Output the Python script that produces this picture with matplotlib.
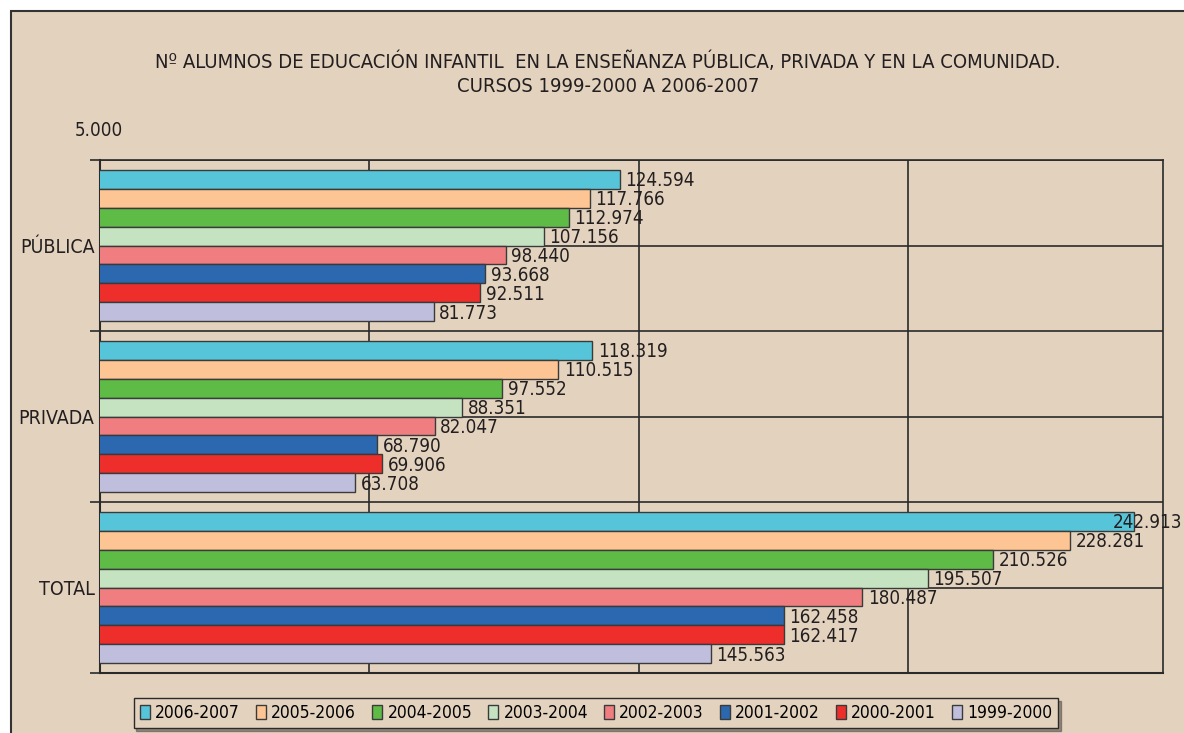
import matplotlib
matplotlib.use("Agg")
import matplotlib.pyplot as plt
from matplotlib import font_manager
from matplotlib.patches import Rectangle
import numpy as np

_names = {f.name for f in font_manager.fontManager.ttflist}
_cond = [f for f in font_manager.fontManager.ttflist
         if f.name == "DejaVu Sans" and "Condensed" in f.fname]
if "Liberation Sans Narrow" in _names:
    plt.rcParams['font.family'] = ['Liberation Sans Narrow', 'DejaVu Sans']
else:
    plt.rcParams['font.family'] = ['DejaVu Sans']
    if _cond:
        plt.rcParams['font.stretch'] = 'condensed'

categories = ["PÚBLICA", "PRIVADA", "TOTAL"]
series_names = ["2006-2007", "2005-2006", "2004-2005", "2003-2004",
                "2002-2003", "2001-2002", "2000-2001", "1999-2000"]
colors = ["#57C5D9", "#FDC593", "#5DBB46", "#C5E2C1",
          "#F07E80", "#2C68B0", "#EE2E2A", "#BFBEDD"]
# values per series: [PÚBLICA, PRIVADA, TOTAL]
values = {
    "2006-2007": [124594, 118319, 242913],
    "2005-2006": [117766, 110515, 228281],
    "2004-2005": [112974, 97552, 210526],
    "2003-2004": [107156, 88351, 195507],
    "2002-2003": [98440, 82047, 180487],
    "2001-2002": [93668, 68790, 162458],
    "2000-2001": [92511, 69906, 162417],
    "1999-2000": [81773, 63708, 145563],
}
title = ("Nº ALUMNOS DE EDUCACIÓN INFANTIL  EN LA ENSEÑANZA PÚBLICA, PRIVADA Y EN LA COMUNIDAD.\n"
         "CURSOS 1999-2000 A 2006-2007")
x_min = 5000
x_max = 249700
x_grid = [67000, 129000, 191000]

def fmt(v):
    return f"{v:,}".replace(",", ".")

W, H = 1184, 733
bg = "#E3D3BE"
ink = "#231f20"
fig = plt.figure(figsize=(W / 100, H / 100), dpi=100)
fig.patch.set_facecolor("white")
bgrect = Rectangle((11 / W, -0.01), 1.02, 1 - 11 / H + 0.01,
                   transform=fig.transFigure, facecolor=bg,
                   edgecolor="#333333", linewidth=1.5, zorder=-10)
fig.patches.append(bgrect)

ax = fig.add_axes([100 / W, (H - 673) / H, 1063 / W, 513 / H])
ax.set_zorder(5)
ax.set_facecolor(bg)

n = len(categories)
ypos = np.arange(n)[::-1].astype(float)  # PÚBLICA at top
h = 0.111
fs = 13.5
for i, name in enumerate(series_names):
    off = (3.5 - i) * h
    ys = ypos + off
    ax.barh(ys, values[name], height=h, left=0, color=colors[i],
            edgecolor="#3a3a3a", linewidth=1.0, zorder=3, label=name)
    for y, v in zip(ys, values[name]):
        if v > 0.97 * x_max:
            # label would run past the figure edge: pull it back inside
            ax.annotate(fmt(v), (1182 / W, y), xycoords=("figure fraction", "data"),
                        xytext=(0, -1), textcoords="offset points",
                        ha="right", va="center", fontsize=fs, color=ink, zorder=5,
                        annotation_clip=False)
        else:
            ax.annotate(fmt(v), (v, y), xytext=(4, -1), textcoords="offset points",
                        ha="left", va="center", fontsize=fs, color=ink, zorder=5,
                        annotation_clip=False)

ax.set_xlim(x_min, x_max)
ax.set_ylim(-0.5, n - 0.5)

for yg in np.arange(-0.5, n - 0.49, 0.5):
    ax.axhline(yg, color="#2a2a2a", linewidth=1.2, zorder=1)
for xg in x_grid:
    ax.axvline(xg, color="#2a2a2a", linewidth=1.2, zorder=1)

ax.set_xticks([])
ax.set_yticks(ypos)
ax.set_yticklabels(categories, fontsize=fs + 0.5, color=ink)
ax.tick_params(axis="y", which="major", length=0, pad=4)
ax.set_yticks(np.arange(-0.5, n - 0.49, 1.0), minor=True)
ax.tick_params(axis="y", which="minor", length=7, width=1.2, color="#2a2a2a", direction="out")
for s in ["left", "bottom"]:
    ax.spines[s].set_color("#2a2a2a")
    ax.spines[s].set_linewidth(1.5)
for s in ["top", "right"]:
    ax.spines[s].set_color("#2a2a2a")
    ax.spines[s].set_linewidth(1.2)

fig.text(99 / W, 1 - 131 / H, "5.000", fontsize=fs, ha="center", va="center", color=ink)

fig.text(608 / W, 1 - 74 / H, title, fontsize=14.5, ha="center", va="center",
         color=ink, linespacing=1.3)

handles = [Rectangle((0, 0), 1, 1, facecolor=c, edgecolor="#3a3a3a", linewidth=1.0)
           for c in colors]
leg = fig.legend(handles, series_names, loc="center", ncol=8,
                 bbox_to_anchor=(596 / W, 1 - 713 / H), fontsize=12.5,
                 frameon=True, fancybox=False, shadow=True,
                 handlelength=0.6, handleheight=0.9, handletextpad=0.3,
                 columnspacing=0.9, borderpad=0.35)
leg.set_zorder(6)
leg.get_frame().set_facecolor(bg)
leg.get_frame().set_edgecolor("#2a2a2a")
leg.get_frame().set_linewidth(1.0)

fig.savefig("out.png", dpi=100, facecolor=fig.get_facecolor())
